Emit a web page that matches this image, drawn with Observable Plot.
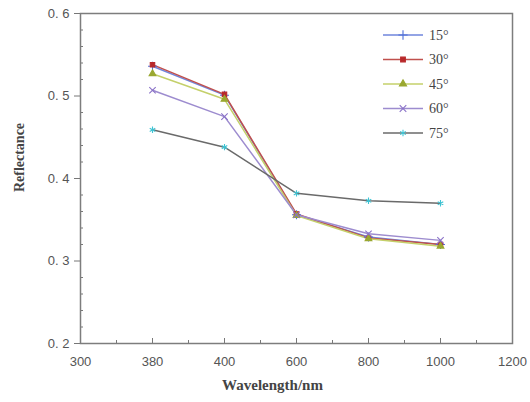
<!DOCTYPE html>
<html>
<head>
<meta charset="utf-8">
<script src="https://cdn.jsdelivr.net/npm/d3@7"></script>
<script src="https://cdn.jsdelivr.net/npm/@observablehq/plot@0.6"></script>
<style>
  body { margin: 0; background: #fff; }
  #chart { position: relative; width: 530px; height: 402px; }
  #chart svg { display: block; }
  #legend { position: absolute; left: 0; top: 0; }
</style>
</head>
<body>
<div id="chart"></div>
<script>
// Wavelength tick labels (evenly spaced categories on the x axis)
const xTicks = [300, 380, 400, 600, 800, 1000, 1200];
const wavelengths = [380, 400, 600, 800, 1000];
const angles = ["15°", "30°", "45°", "60°", "75°"];

// Reflectance for each incidence angle
const r15 = [0.536, 0.501, 0.356, 0.329, 0.320];
const r30 = [0.538, 0.502, 0.357, 0.328, 0.320];
const r45 = [0.527, 0.496, 0.355, 0.327, 0.318];
const r60 = [0.507, 0.475, 0.356, 0.333, 0.325];
const r75 = [0.459, 0.438, 0.382, 0.373, 0.370];
const yTicks = [0.2, 0.3, 0.4, 0.5, 0.6];

const values = [r15, r30, r45, r60, r75];

// Per-series styling
const lineColors = ["#6f86dc", "#c0504d", "#c4d06a", "#9d8ccf", "#6a6a6a"];
const markColors = ["#4f6fd8", "#b8282a", "#9aa830", "#8a72c8", "#3ec4d4"];
const symbols = ["plus", "square", "triangle", "times", "asterisk"];
const filled = [false, true, true, false, false];

const rows = angles.flatMap((a, s) =>
  wavelengths.map((w, k) => ({ angle: a, s, i: xTicks.indexOf(w), r: values[s][k] }))
);

const W = 530, H = 402;
const mL = 80, mR = 18, mT = 13, mB = 59;
const pxX = 6 / (W - mL - mR);     // one pixel in x-index units
const pxY = 0.4 / (H - mT - mB);   // one pixel in reflectance units

const xMinor = d3.range(0.5, 6, 1);
const yMinor = d3.range(0.22, 0.6, 0.02).filter(v => Math.abs(v * 10 - Math.round(v * 10)) > 0.01);

const marks = [
  // inward tick marks
  Plot.ruleX(d3.range(1, 6), { x: d => d, y1: 0.2, y2: 0.2 + 5 * pxY, stroke: "#777", strokeWidth: 1 }),
  Plot.ruleX(xMinor, { x: d => d, y1: 0.2, y2: 0.2 + 3 * pxY, stroke: "#777", strokeWidth: 1 }),
  Plot.ruleY(yMinor, { y: d => d, x1: 0, x2: 3 * pxX, stroke: "#777", strokeWidth: 1 }),
  Plot.axisX({
    ticks: d3.range(0, 7), tickFormat: i => String(xTicks[i]), tickSize: 0, tickPadding: 13,
    fontSize: 13, fill: "#555", label: null
  }),
  Plot.axisY({
    ticks: yTicks, tickFormat: v => d3.format(".1f")(v).replace(".", ". "), tickSize: 6, tickPadding: 5,
    fontSize: 13, fill: "#555", stroke: "#777", label: null
  }),
  Plot.frame({ stroke: "#7d7d7d", strokeWidth: 1.5 })
];

angles.forEach((a, s) => {
  const data = rows.filter(d => d.s === s);
  marks.push(Plot.line(data, { x: "i", y: "r", stroke: lineColors[s], strokeWidth: 1.5 }));
});
angles.forEach((a, s) => {
  const data = rows.filter(d => d.s === s);
  marks.push(Plot.dot(data, {
    x: "i", y: "r", symbol: symbols[s], r: filled[s] ? 2.5 : 3,
    fill: filled[s] ? markColors[s] : "none", stroke: markColors[s], strokeWidth: 1.1
  }));
});

marks.push(
  Plot.text(["Wavelength/nm"], {
    text: d => d, frameAnchor: "bottom", dx: -24, dy: 46,
    fontFamily: "Liberation Serif", fontWeight: "bold", fontSize: 15, fill: "#444"
  }),
  Plot.text(["Reflectance"], {
    text: d => d, frameAnchor: "left", textAnchor: "middle", dx: -61, dy: -21, rotate: -90,
    fontFamily: "Liberation Serif", fontWeight: "bold", fontSize: 14, fill: "#444"
  })
);

const chart = Plot.plot({
  width: W, height: H,
  marginLeft: mL, marginRight: mR, marginTop: mT, marginBottom: mB,
  style: { fontFamily: "Arial, Liberation Sans, sans-serif", background: "#fff" },
  x: { type: "linear", domain: [0, 6], axis: null },
  y: { domain: [0.2, 0.6], axis: null },
  marks
});
document.getElementById("chart").appendChild(chart);

// Legend in the upper right of the plot area
const legend = d3.select("#chart").append("svg")
  .attr("id", "legend").attr("width", W).attr("height", H)
  .style("pointer-events", "none");
const symbolTypes = {
  plus: d3.symbolPlus, square: d3.symbolSquare, triangle: d3.symbolTriangle,
  times: d3.symbolTimes, asterisk: d3.symbolAsterisk
};
angles.forEach((a, s) => {
  const g = legend.append("g").attr("transform", `translate(383,${35 + s * 24.5})`);
  g.append("line").attr("x1", 0).attr("x2", 40).attr("y1", 0).attr("y2", 0)
    .attr("stroke", lineColors[s]).attr("stroke-width", 1.5);
  const size = filled[s] ? 22 : 30;
  g.append("path").attr("transform", "translate(20,0)")
    .attr("d", d3.symbol(symbolTypes[symbols[s]], size)())
    .attr("fill", filled[s] ? markColors[s] : "none")
    .attr("stroke", markColors[s]).attr("stroke-width", 1.1);
  g.append("text").attr("x", 46).attr("y", 0).attr("dy", "0.35em")
    .attr("font-family", "Liberation Serif").attr("font-size", 14).attr("fill", "#444")
    .text(a);
});
</script>
</body>
</html>
